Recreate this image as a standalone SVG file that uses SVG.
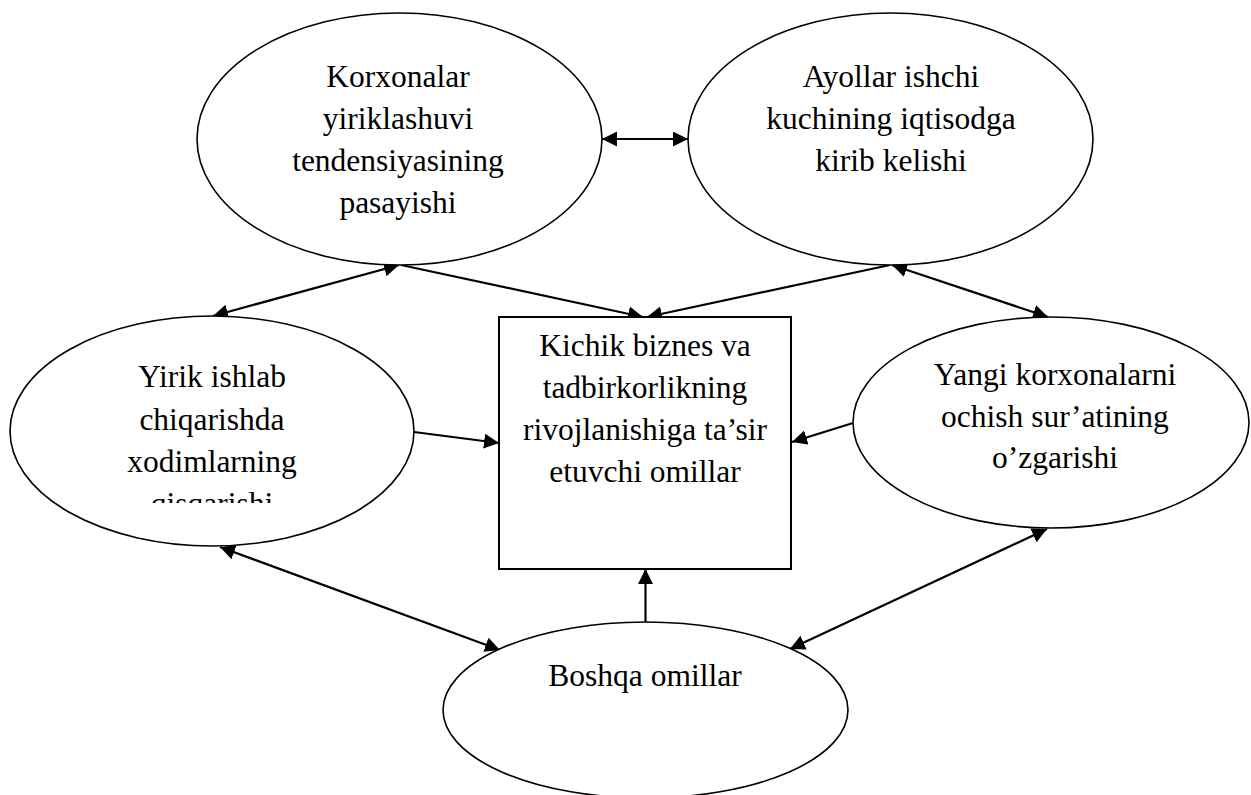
<svg xmlns="http://www.w3.org/2000/svg" width="1251" height="795" viewBox="0 0 1251 795">
  <style>
    .shape { fill: #ffffff; stroke: #000000; stroke-width: 1.6; }
    .box { fill: #ffffff; stroke: #000000; stroke-width: 2; }
    .lbl { font-family: "Liberation Serif", "Times New Roman", serif; font-size: 31.5px; fill: #000000; text-anchor: middle; }
    .conn { stroke: #000000; stroke-width: 2.2; fill: none; }
    .one { marker-end: url(#ah); }
    .two { marker-start: url(#ah); marker-end: url(#ah); }
  </style>
  <defs>
    <marker id="ah" markerUnits="userSpaceOnUse" markerWidth="16" markerHeight="16" refX="15" refY="7.5" orient="auto-start-reverse" viewBox="0 0 16 16">
      <path d="M0,0 L15,7.5 L0,15 Z" fill="#000000"/>
    </marker>
    <clipPath id="clipE3">
      <rect x="0" y="300" width="440" height="203"/>
    </clipPath>
  </defs>
  <rect width="1251" height="795" fill="#ffffff"/>

  <g id="connectors">
    <line class="conn two" x1="602" y1="139" x2="688" y2="139"/>
    <line class="conn two" x1="399" y1="265" x2="213" y2="316"/>
    <line class="conn one" x1="401" y1="265" x2="643" y2="317"/>
    <line class="conn one" x1="890" y1="265" x2="647" y2="317"/>
    <line class="conn two" x1="892" y1="265" x2="1048" y2="317"/>
    <line class="conn one" x1="414" y1="432" x2="499" y2="443"/>
    <line class="conn one" x1="853" y1="423" x2="792" y2="442"/>
    <line class="conn one" x1="645.5" y1="622" x2="645.5" y2="569"/>
    <line class="conn two" x1="220" y1="547" x2="500" y2="650"/>
    <line class="conn two" x1="1047" y1="529" x2="790" y2="649"/>
  </g>

  <g id="node-korxonalar">
    <ellipse class="shape" cx="399.5" cy="139" rx="202.5" ry="126"/>
    <text class="lbl" x="398" y="87">Korxonalar</text>
    <text class="lbl" x="398" y="129">yiriklashuvi</text>
    <text class="lbl" x="398" y="171">tendensiyasining</text>
    <text class="lbl" x="398" y="213">pasayishi</text>
  </g>

  <g id="node-ayollar">
    <ellipse class="shape" cx="890.5" cy="139" rx="202.5" ry="126"/>
    <text class="lbl" x="891" y="87">Ayollar ishchi</text>
    <text class="lbl" x="891" y="129">kuchining iqtisodga</text>
    <text class="lbl" x="891" y="171">kirib kelishi</text>
  </g>

  <g id="node-yirik">
    <ellipse class="shape" cx="212" cy="431" rx="202" ry="115"/>
    <g clip-path="url(#clipE3)">
      <text class="lbl" x="212" y="387">Yirik ishlab</text>
      <text class="lbl" x="212" y="430">chiqarishda</text>
      <text class="lbl" x="212" y="472">xodimlarning</text>
      <text class="lbl" x="212" y="514">qisqarishi</text>
    </g>
  </g>

  <g id="node-yangi">
    <ellipse class="shape" cx="1051" cy="422.5" rx="198" ry="105.5"/>
    <text class="lbl" x="1055" y="385">Yangi korxonalarni</text>
    <text class="lbl" x="1055" y="427">ochish sur’atining</text>
    <text class="lbl" x="1055" y="468">o’zgarishi</text>
  </g>

  <g id="node-kichik">
    <rect class="box" x="499" y="317" width="292" height="252"/>
    <text class="lbl" x="645" y="356">Kichik biznes va</text>
    <text class="lbl" x="645" y="398">tadbirkorlikning</text>
    <text class="lbl" x="645" y="440">rivojlanishiga ta’sir</text>
    <text class="lbl" x="645" y="482">etuvchi omillar</text>
  </g>

  <g id="node-boshqa">
    <ellipse class="shape" cx="645.5" cy="710" rx="202.5" ry="88"/>
    <text class="lbl" x="645" y="686">Boshqa omillar</text>
  </g>
</svg>
